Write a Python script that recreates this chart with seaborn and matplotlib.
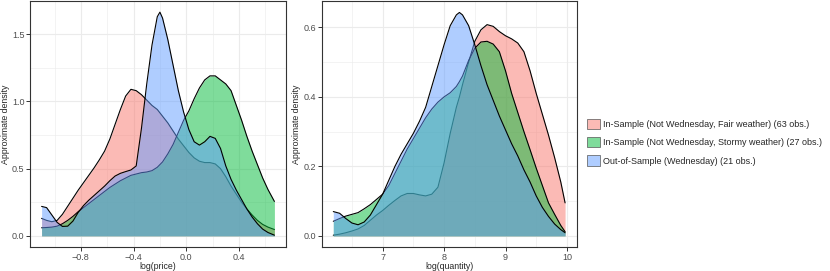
import matplotlib
matplotlib.use("Agg")
import matplotlib.pyplot as plt
import seaborn as sns
from matplotlib.patches import Patch
from matplotlib.ticker import MultipleLocator
from matplotlib.colors import to_rgba

# Group labels and ggplot-style hue colours
groups = [
    "In-Sample (Not Wednesday, Fair weather) (63 obs.)",
    "In-Sample (Not Wednesday, Stormy weather) (27 obs.)",
    "Out-of-Sample (Wednesday) (21 obs.)",
]
colors = ["#F8766D", "#00BA38", "#619CFF"]

# Density of log(price)
price_x = [-1.098, -1.06, -1.02, -0.98, -0.94, -0.90, -0.86, -0.82, -0.78, -0.74,
           -0.70, -0.66, -0.62, -0.58, -0.54, -0.50, -0.46, -0.42, -0.38, -0.34,
           -0.30, -0.26, -0.22, -0.20, -0.18, -0.14, -0.10, -0.06, -0.02, 0.02,
           0.06, 0.10, 0.14, 0.18, 0.22, 0.26, 0.30, 0.34, 0.38, 0.42,
           0.46, 0.50, 0.54, 0.58, 0.62, 0.669]
price_fair = [0.13, 0.115, 0.105, 0.115, 0.16, 0.22, 0.28, 0.34, 0.395, 0.45,
              0.505, 0.565, 0.63, 0.72, 0.83, 0.94, 1.04, 1.09, 1.08, 1.05,
              1.01, 0.97, 0.94, 0.915, 0.89, 0.84, 0.78, 0.72, 0.67, 0.62,
              0.58, 0.555, 0.545, 0.545, 0.535, 0.50, 0.44, 0.37, 0.31, 0.25,
              0.20, 0.155, 0.115, 0.085, 0.065, 0.047]
price_stormy = [0.06, 0.062, 0.065, 0.072, 0.09, 0.115, 0.145, 0.18, 0.21, 0.24,
                0.27, 0.30, 0.33, 0.36, 0.385, 0.41, 0.43, 0.45, 0.46, 0.47,
                0.475, 0.485, 0.51, 0.53, 0.55, 0.61, 0.68, 0.77, 0.86, 0.93,
                1.02, 1.10, 1.16, 1.19, 1.19, 1.16, 1.13, 1.08, 0.97, 0.86,
                0.74, 0.63, 0.53, 0.43, 0.345, 0.256]
price_wed = [0.219, 0.21, 0.155, 0.10, 0.07, 0.072, 0.11, 0.175, 0.225, 0.265,
             0.30, 0.335, 0.37, 0.41, 0.445, 0.465, 0.478, 0.49, 0.52, 0.80,
             1.13, 1.42, 1.63, 1.664, 1.62, 1.46, 1.27, 1.08, 0.92, 0.79,
             0.70, 0.675, 0.70, 0.74, 0.725, 0.65, 0.52, 0.42, 0.34, 0.27,
             0.20, 0.14, 0.09, 0.05, 0.025, 0.005]

# Density of log(quantity)
qty_x = [6.197, 6.3, 6.4, 6.5, 6.6, 6.7, 6.8, 6.9, 7.0, 7.1,
         7.2, 7.3, 7.4, 7.5, 7.6, 7.7, 7.8, 7.9, 8.0, 8.1,
         8.2, 8.25, 8.3, 8.4, 8.5, 8.6, 8.7, 8.8, 8.9, 9.0,
         9.1, 9.2, 9.3, 9.4, 9.5, 9.6, 9.7, 9.8, 9.9, 9.97]
qty_fair = [0.002, 0.005, 0.009, 0.014, 0.02, 0.03, 0.045, 0.06, 0.073, 0.088,
            0.102, 0.115, 0.122, 0.122, 0.118, 0.115, 0.12, 0.14, 0.21, 0.295,
            0.37, 0.40, 0.435, 0.50, 0.56, 0.593, 0.608, 0.603, 0.588, 0.576,
            0.567, 0.555, 0.53, 0.475, 0.41, 0.35, 0.29, 0.225, 0.155, 0.095]
qty_stormy = [0.042, 0.05, 0.057, 0.062, 0.067, 0.078, 0.09, 0.105, 0.12, 0.145,
              0.18, 0.215, 0.25, 0.28, 0.31, 0.34, 0.365, 0.385, 0.40, 0.412,
              0.43, 0.444, 0.46, 0.505, 0.54, 0.558, 0.56, 0.552, 0.53, 0.475,
              0.41, 0.355, 0.30, 0.248, 0.195, 0.145, 0.095, 0.062, 0.03, 0.012]
qty_wed = [0.07, 0.065, 0.05, 0.037, 0.032, 0.04, 0.06, 0.09, 0.12, 0.16,
           0.20, 0.235, 0.265, 0.295, 0.33, 0.37, 0.43, 0.49, 0.55, 0.605,
           0.636, 0.643, 0.636, 0.605, 0.55, 0.49, 0.435, 0.39, 0.345, 0.305,
           0.265, 0.23, 0.19, 0.155, 0.115, 0.082, 0.056, 0.034, 0.018, 0.009]

sns.set_style("white")
plt.rcParams['font.family'] = ['Liberation Sans', 'DejaVu Sans']

fig = plt.figure(figsize=(8.3, 2.71), dpi=100)
W, H = 830, 271


def draw_panel(ax, x, curves, xlim, ylim, xmaj, ymaj, xlabel):
    # ggplot draws each group fill then its outline, in group order
    for y, c in zip(curves, colors):
        ax.fill_between(x, y, 0, color=c, alpha=0.5, linewidth=0, zorder=2)
        sns.lineplot(x=x, y=y, color="black", linewidth=0.8, ax=ax, sort=False,
                     zorder=2)
    ax.set_xlim(*xlim)
    ax.set_ylim(*ylim)
    ax.xaxis.set_major_locator(MultipleLocator(xmaj))
    ax.xaxis.set_minor_locator(MultipleLocator(xmaj / 2))
    ax.yaxis.set_major_locator(MultipleLocator(ymaj))
    ax.yaxis.set_minor_locator(MultipleLocator(ymaj / 2))
    ax.grid(which="major", color="#EBEBEB", linewidth=0.8)
    ax.grid(which="minor", color="#EBEBEB", linewidth=0.4)
    ax.set_axisbelow(True)
    for s in ax.spines.values():
        s.set_color("#333333")
        s.set_linewidth(0.8)
    ax.tick_params(which="major", length=3, width=0.7, color="#333333",
                   labelsize=6.5, labelcolor="#4D4D4D", pad=1,
                   bottom=True, left=True)
    ax.tick_params(which="minor", length=0)
    ax.set_xlabel(xlabel, fontsize=6.3, labelpad=0.5)
    ax.set_ylabel("Approximate density", fontsize=6.3, labelpad=1.5)


ax1 = fig.add_axes([30 / W, 24 / H, 256 / W, 246 / H])
draw_panel(ax1, price_x, [price_fair, price_stormy, price_wed],
           (-1.186, 0.757), (-0.083, 1.747), 0.4, 0.5, "log(price)")

ax2 = fig.add_axes([321.7 / W, 24 / H, 255 / W, 246 / H])
draw_panel(ax2, qty_x, [qty_fair, qty_stormy, qty_wed],
           (6.008, 10.159), (-0.032, 0.676), 1, 0.2, "log(quantity)")

handles = [Patch(facecolor=to_rgba(c, 0.5), edgecolor="#555555", linewidth=0.5)
           for c in colors]
fig.legend(handles, groups, loc="upper left",
           bbox_to_anchor=(586.7 / W, 1 - 119 / H), frameon=False,
           fontsize=6.5, handlelength=1.48, handleheight=1.37,
           handletextpad=0.37, labelspacing=0.88, borderpad=0, borderaxespad=0)

fig.savefig("out.png", dpi=100)
